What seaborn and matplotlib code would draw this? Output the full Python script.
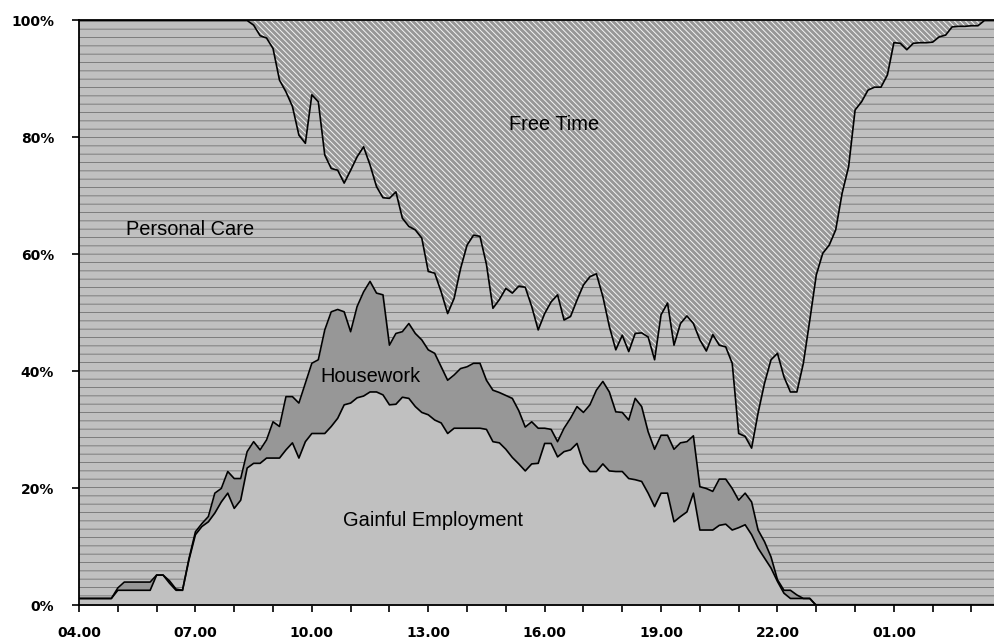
import numpy as np
import pandas as pd
import matplotlib
matplotlib.use("Agg")
import matplotlib.pyplot as plt
import seaborn as sns

# 10-minute slots from 04.00 to 03.40 next morning (hours past midnight of day 1)
FIRST_HOUR = 4
SLOT_MIN = 10

# share of people (%) in each activity, one row per hour (:00 :10 :20 :30 :40 :50)
employment = [
    1.2, 1.2, 1.2, 1.2, 1.2, 1.2,        # 04
    2.6, 2.6, 2.6, 2.6, 2.6, 2.6,        # 05
    5.2, 5.2, 3.8, 2.6, 2.6, 7.8,        # 06
    12.1, 13.5, 14.3, 15.8, 17.7, 19.2,  # 07
    16.6, 18.0, 23.5, 24.3, 24.3, 25.2,  # 08
    25.2, 25.2, 26.6, 27.8, 25.2, 28.0,  # 09
    29.4, 29.4, 29.4, 30.6, 32.0, 34.3,  # 10
    34.6, 35.5, 35.8, 36.5, 36.5, 36.0,  # 11
    34.3, 34.4, 35.6, 35.4, 34.0, 33.0,  # 12
    32.6, 31.7, 31.2, 29.4, 30.3, 30.3,  # 13
    30.3, 30.3, 30.3, 30.1, 28.0, 27.8,  # 14
    26.7, 25.3, 24.2, 23.0, 24.2, 24.3,  # 15
    27.7, 27.7, 25.4, 26.3, 26.6, 27.7,  # 16
    24.3, 22.9, 22.9, 24.2, 23.0, 22.9,  # 17
    22.9, 21.7, 21.5, 21.2, 19.2, 16.9,  # 18
    19.2, 19.2, 14.3, 15.2, 16.0, 19.2,  # 19
    12.9, 12.9, 12.9, 13.7, 13.9, 12.9,  # 20
    13.3, 13.8, 12.1, 9.8, 8.1, 6.4,     # 21
    4.1, 2.1, 1.2, 1.2, 1.2, 1.2,        # 22
    0, 0, 0, 0, 0, 0,                    # 23
    0, 0, 0, 0, 0, 0,                    # 00
    0, 0, 0, 0, 0, 0,                    # 01
    0, 0, 0, 0, 0, 0,                    # 02
    0, 0, 0, 0, 0,                       # 03
]

housework = [
    0, 0, 0, 0, 0, 0,
    0.4, 1.4, 1.4, 1.4, 1.4, 1.4,
    0, 0, 0.4, 0.2, 0, 0.2,
    0.5, 0.5, 0.9, 3.4, 2.3, 3.7,
    5.1, 3.7, 2.8, 3.7, 2.3, 3.1,
    6.2, 5.4, 9.1, 7.9, 9.4, 10.0,
    12.0, 12.6, 17.7, 19.6, 18.6, 15.9,
    12.2, 15.6, 17.8, 18.9, 16.9, 17.1,
    10.2, 12.1, 11.2, 12.8, 12.5, 12.4,
    11.1, 11.4, 9.6, 9.1, 9.1, 10.2,
    10.5, 11.1, 11.1, 8.4, 8.8, 8.6,
    9.2, 10.1, 9.1, 7.5, 7.2, 6.0,
    2.6, 2.4, 2.6, 4.0, 5.4, 6.3,
    8.7, 11.4, 13.9, 14.1, 13.5, 10.2,
    10.1, 10.0, 13.9, 12.8, 10.5, 9.8,
    9.9, 9.9, 12.4, 12.6, 12.0, 9.8,
    7.4, 7.1, 6.6, 7.9, 7.7, 7.1,
    4.7, 5.4, 5.6, 3.1, 2.8, 1.9,
    0.3, 0.5, 1.4, 0.6, 0, 0,
    0, 0, 0, 0, 0, 0,
    0, 0, 0, 0, 0, 0,
    0, 0, 0, 0, 0, 0,
    0, 0, 0, 0, 0, 0,
    0, 0, 0, 0, 0,
]

personal_care = [
    98.8, 98.8, 98.8, 98.8, 98.8, 98.8,
    97.0, 96.0, 96.0, 96.0, 96.0, 96.0,
    94.8, 94.8, 95.8, 97.2, 97.4, 92.0,
    87.4, 86.0, 84.8, 80.8, 80.0, 77.1,
    78.3, 78.3, 73.7, 71.2, 70.8, 68.7,
    63.8, 59.2, 52.1, 49.6, 45.8, 41.0,
    45.9, 44.1, 29.9, 24.5, 23.8, 22.0,
    27.6, 25.6, 24.8, 19.9, 18.2, 16.6,
    25.1, 24.2, 19.4, 16.6, 17.7, 17.4,
    13.4, 13.7, 12.8, 11.4, 13.1, 17.1,
    20.8, 21.9, 21.7, 19.8, 14.0, 15.9,
    18.3, 18.0, 21.3, 23.9, 19.7, 16.8,
    19.6, 21.8, 25.1, 18.5, 17.4, 18.2,
    21.8, 21.9, 19.9, 14.5, 11.2, 10.6,
    13.2, 11.7, 11.1, 12.6, 16.2, 15.3,
    20.6, 22.6, 17.8, 20.4, 21.5, 19.2,
    25.1, 23.5, 26.8, 22.9, 22.6, 21.4,
    11.4, 9.7, 9.2, 20.0, 27.1, 33.7,
    38.7, 36.5, 33.9, 34.7, 40.2, 47.6,
    56.5, 60.2, 61.6, 64.2, 70.5, 75.0,
    84.7, 86.1, 88.1, 88.6, 88.6, 90.7,
    96.2, 96.1, 95.0, 96.1, 96.2, 96.2,
    96.3, 97.2, 97.5, 98.9, 99.0, 99.0,
    99.1, 99.1, 100, 100, 100,
]

free_time = [
    0, 0, 0, 0, 0, 0,
    0, 0, 0, 0, 0, 0,
    0, 0, 0, 0, 0, 0,
    0, 0, 0, 0, 0, 0,
    0, 0, 0, 0.8, 2.6, 3.0,
    4.8, 10.2, 12.2, 14.7, 19.6, 21.0,
    12.7, 13.9, 23.0, 25.3, 25.6, 27.8,
    25.6, 23.3, 21.6, 24.7, 28.4, 30.3,
    30.4, 29.3, 33.8, 35.2, 35.8, 37.2,
    42.9, 43.2, 46.4, 50.1, 47.5, 42.4,
    38.4, 36.7, 36.9, 41.7, 49.2, 47.7,
    45.8, 46.6, 45.4, 45.6, 48.9, 52.9,
    50.1, 48.1, 46.9, 51.2, 50.6, 47.8,
    45.2, 43.8, 43.3, 47.2, 52.3, 56.3,
    53.8, 56.6, 53.5, 53.4, 54.1, 58.0,
    50.3, 48.3, 55.5, 51.8, 50.5, 51.8,
    54.6, 56.5, 53.7, 55.5, 55.8, 58.6,
    70.6, 71.1, 73.1, 67.1, 62.0, 58.0,
    56.9, 60.9, 63.5, 63.5, 58.6, 51.2,
    43.5, 39.8, 38.4, 35.8, 29.5, 25.0,
    15.3, 13.9, 11.9, 11.4, 11.4, 9.3,
    3.8, 3.9, 5.0, 3.9, 3.8, 3.8,
    3.7, 2.8, 2.5, 1.1, 1.0, 1.0,
    0.9, 0.9, 0, 0, 0,
]

tick_hours = [4, 7, 10, 13, 16, 19, 22, 25]
tick_labels = ["04.00", "07.00", "10.00", "13.00", "16.00", "19.00", "22.00", "01.00"]
y_ticks = [0, 20, 40, 60, 80, 100]

hours = FIRST_HOUR + np.arange(len(employment)) * SLOT_MIN / 60

sns.set_theme(style="white")
plt.rcParams["font.family"] = ["DejaVu Sans"]
plt.rcParams["hatch.linewidth"] = 0.7

fig = plt.figure(figsize=(9.94, 6.44), dpi=100)
ax = fig.add_axes([0.0795, 0.0598, 0.9205, 0.9084])

# (values, face colour, hatch, hatch colour) from bottom to top
layers = [
    (employment, "#c0c0c0", None, "#c0c0c0"),
    (housework, "#979797", None, "#979797"),
    (personal_care, "#c0c0c0", "--", "#7c7c7c"),
    (free_time, "#979797", "\\\\\\\\\\\\", "#f4f4f4"),
]

lower = np.zeros(len(hours))
boundaries = []
for vals, face, hatch, hcol in layers:
    upper = lower + np.asarray(vals, dtype=float)
    ax.fill_between(hours, lower, upper, facecolor=face, edgecolor=hcol,
                    hatch=hatch, linewidth=0, zorder=1)
    boundaries.append(upper)
    lower = upper

# black outlines between the bands
names = ["employment", "housework", "personal_care"]
df_lines = pd.concat(
    [pd.DataFrame({"hour": hours, "value": b, "edge": n}) for n, b in zip(names, boundaries[:3])],
    ignore_index=True,
)
sns.lineplot(data=df_lines, x="hour", y="value", units="edge", estimator=None,
             color="black", linewidth=1.2, ax=ax, zorder=3)

ax.set_xlim(4, 27.58)
ax.set_ylim(0, 100)
ax.set_xticks(np.arange(4, 28))
ax.set_xticklabels([tick_labels[tick_hours.index(h)] if h in tick_hours else "" for h in range(4, 28)])
ax.set_yticks(y_ticks)
ax.set_yticklabels([f"{v}%" for v in y_ticks])
ax.set_xlabel("")
ax.set_ylabel("")

ax.tick_params(axis="x", bottom=True, length=5, width=1.2, color="black", pad=10,
               labelsize=10, labelcolor="black")
ax.tick_params(axis="y", left=True, length=5, width=1.2, color="black", pad=13,
               labelsize=10, labelcolor="black")
for lab in ax.get_xticklabels() + ax.get_yticklabels():
    lab.set_fontweight("bold")

for side in ["left", "bottom", "top"]:
    ax.spines[side].set_color("black")
    ax.spines[side].set_linewidth(1.3)
ax.spines["right"].set_visible(False)

label_kw = dict(family=["Liberation Sans", "DejaVu Sans"], fontsize=14.4, color="black",
                ha="center", va="center", zorder=4)
ax.text(6.86, 64.2, "Personal Care", **label_kw)
ax.text(16.24, 82.3, "Free Time", **label_kw)
ax.text(11.5, 39.1, "Housework", **label_kw)
ax.text(13.12, 14.6, "Gainful Employment", **label_kw)

fig.savefig("out.png", dpi=100)
